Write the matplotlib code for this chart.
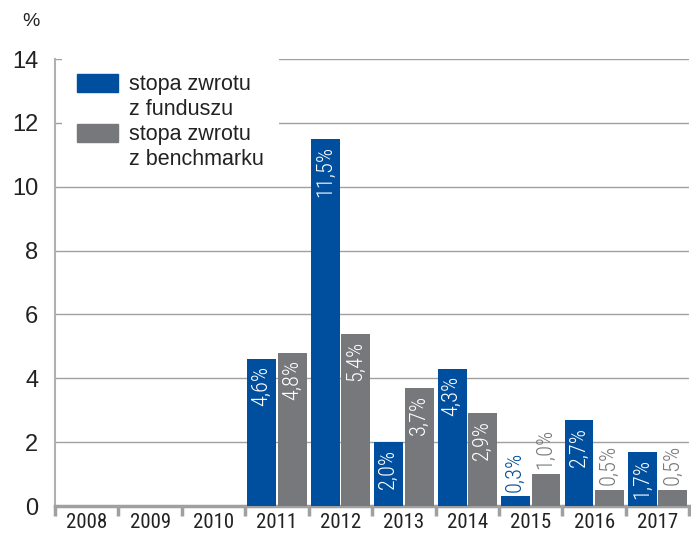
import numpy as np
import matplotlib.pyplot as plt

lata = ['2008', '2009', '2010', '2011', '2012', '2013', '2014', '2015', '2016', '2017']
fundusz = [None, None, None, 4.6, 11.5, 2.0, 4.3, 0.3, 2.7, 1.7]
benchmark = [None, None, None, 4.8, 5.4, 3.7, 2.9, 1.0, 0.5, 0.5]
opisy = ['stopa zwrotu', 'z funduszu', 'stopa zwrotu', 'z benchmarku']

niebieski = '#004f9f'
szary = '#77787b'
waski = 'Roboto Condensed'

plt.rcParams['font.family'] = ['Liberation Sans', 'DejaVu Sans']

fig = plt.figure(figsize=(6.91, 5.34), dpi=100)
ax = fig.add_axes([0.0796, 0.0524, 0.918, 0.837])

x = np.arange(len(lata))
w = 0.455
off = 0.24

def rysuj(wartosci, dx, kolor):
    for xi, v in zip(x, wartosci):
        if v is None:
            continue
        ax.bar(xi + dx, v, width=w, color=kolor, zorder=3)
        txt = f'{v:.1f}%'.replace('.', ',')
        if v >= 1.5:
            ax.text(xi + dx, v - 0.22, txt, rotation=90, ha='center', va='top',
                    color='white', fontsize=16, family=waski, weight='light', zorder=4)
        else:
            ax.text(xi + dx, v + 0.15, txt, rotation=90, ha='center', va='bottom',
                    color=kolor, fontsize=16, family=waski, weight='light', zorder=4)

rysuj(fundusz, -off, niebieski)
rysuj(benchmark, off, szary)

ax.set_xlim(-0.5, len(lata) - 0.5)
ax.set_ylim(0, 14)
ax.set_yticks(range(0, 15, 2))
ax.yaxis.grid(True, color='#a0a0a0', linewidth=1, zorder=0)
ax.tick_params(axis='y', length=0, labelsize=17, pad=12, colors='#222222')

ax.set_xticks(x)
ax.set_xticklabels(lata, family=waski, fontsize=15, color='#222222')
ax.set_xticks(np.arange(-0.5, len(lata), 1), minor=True)
ax.tick_params(axis='x', which='major', length=0, pad=5)
ax.tick_params(axis='x', which='minor', length=7, width=2.5, color='#a0a0a0')

for s in ['top', 'right']:
    ax.spines[s].set_visible(False)
ax.spines['left'].set_color('#b0b0b0')
ax.spines['left'].set_linewidth(1.5)
ax.spines['bottom'].set_color('#a0a0a0')
ax.spines['bottom'].set_linewidth(2.5)

fig.text(0.045, 0.96, '%', fontsize=14, ha='center', va='center', color='#222222')

# legenda: kwadrat koloru tylko przy pierwszej linii opisu
pusty = plt.Rectangle((0, 0), 1, 1, facecolor='none', edgecolor='none')
uchwyty = [plt.Rectangle((0, 0), 1, 1, color=niebieski), pusty,
           plt.Rectangle((0, 0), 1, 1, color=szary), pusty]
leg = ax.legend(uchwyty, opisy,
                loc='upper left', bbox_to_anchor=(-0.006, 1.025), fontsize=15.5,
                frameon=True, fancybox=False, edgecolor='none', facecolor='white', framealpha=1,
                handlelength=1.9, handleheight=0.95, handletextpad=0.5, labelspacing=0.15,
                borderpad=0.7)
for t in leg.get_texts():
    t.set_color('#222222')

fig.savefig('out.png', dpi=100)
